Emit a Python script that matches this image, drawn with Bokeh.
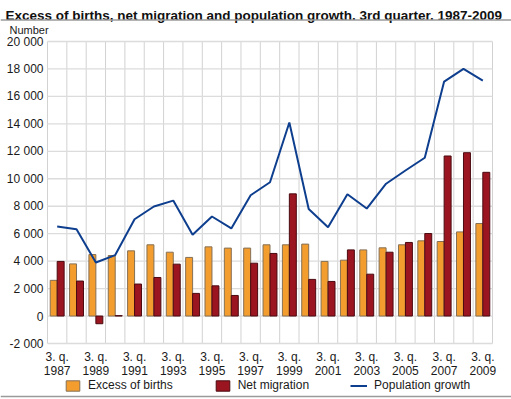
from bokeh.plotting import figure
from bokeh.models import Legend, LegendItem, Range1d, Label, Span
from bokeh.core.properties import value
from bokeh.embed import file_html
from bokeh.resources import INLINE

# ---- data -------------------------------------------------------------
years = list(range(1987, 2010))
excess_of_births = [2600, 3800, 4480, 4410, 4750, 5190, 4650, 4270, 5040, 4950, 4950, 5190,
                    5190, 5240, 3980, 4070, 4820, 4970, 5190, 5480, 5430, 6130, 6740]
net_migration = [3980, 2550, -560, 30, 2330, 2810, 3780, 1650, 2200, 1500, 3850, 4560,
                 8900, 2670, 2520, 4820, 3050, 4650, 5360, 6010, 11660, 11900, 10470]
population_growth = [6520, 6330, 3900, 4440, 7050, 7980, 8410, 5920, 7250, 6380, 8800, 9750,
                     14100, 7800, 6470, 8870, 7830, 9640, 10600, 11530, 17080, 18000, 17150]
y_ticks = list(range(-2000, 20001, 2000))
y_tick_labels = [f"{v:,}".replace(",", " ") for v in y_ticks]
x_tick_years = [y for y in years if (y - years[0]) % 2 == 0]
x_tick_line1 = ["3. q."] * len(x_tick_years)
title_text = "Excess of births, net migration and population growth. 3rd quarter. 1987-2009"
unit_text = "Number"
series_names = ["Excess of births", "Net migration", "Population growth"]

# ---- layout / style -----------------------------------------------------
W, H = 511, 399
PLOT_LEFT, PLOT_RIGHT, PLOT_TOP, PLOT_BOTTOM = 47, 492, 41, 343
FONT = "Liberation Sans"
ORANGE = "#F39D2E"
RED = "#9B1520"
BLUE = "#0E3E8E"
TXT = "#1a1a1a"

n = len(years)
idx = list(range(n))
x_lo, x_hi = -0.5, n - 0.5
y_lo, y_hi = y_ticks[0], y_ticks[-1]
px_x = (PLOT_RIGHT - PLOT_LEFT) / (x_hi - x_lo)
px_y = (PLOT_BOTTOM - PLOT_TOP) / (y_hi - y_lo)
x_range = Range1d(x_lo - PLOT_LEFT / px_x, x_hi + (W - PLOT_RIGHT) / px_x)
y_range = Range1d(y_lo - (H - PLOT_BOTTOM) / px_y, y_hi + PLOT_TOP / px_y)

p = figure(width=W, height=H, output_backend="svg", toolbar_location=None,
           x_range=x_range, y_range=y_range, x_axis_type=None, y_axis_type=None,
           min_border=0, min_border_left=0, min_border_right=0,
           min_border_top=0, min_border_bottom=0)
p.outline_line_color = None
p.background_fill_color = "white"
p.border_fill_color = "white"

# grid (plot area)
boundaries = [i - 0.5 for i in idx] + [n - 0.5]
p.segment(x0=boundaries, x1=boundaries, y0=[y_lo] * len(boundaries), y1=[y_hi] * len(boundaries),
          line_color="#d2d2d2", line_width=1)
p.segment(x0=[x_lo] * len(y_ticks), x1=[x_hi] * len(y_ticks), y0=y_ticks, y1=y_ticks,
          line_color="#dcdcdc", line_width=1.3)

# data
b1 = p.vbar(x=[i - 0.18 for i in idx], top=excess_of_births, bottom=0, width=0.36,
            fill_color=ORANGE, line_color="#857055", line_width=1)
b2 = p.vbar(x=[i + 0.18 for i in idx], top=net_migration, bottom=0, width=0.36,
            fill_color=RED, line_color="#4a0a10", line_width=1)
l1 = p.line(x=idx, y=population_growth, line_color=BLUE, line_width=2)

# tick labels
p.text(x=[x_lo] * len(y_ticks), y=y_ticks, text=y_tick_labels, x_offset=-4,
       text_align="right", text_baseline="middle", text_font=value(FONT),
       text_font_size=value("12px"), text_color=TXT)
x_tick_pos = [years.index(y) for y in x_tick_years]
p.text(x=x_tick_pos, y=[y_lo] * len(x_tick_pos), text=x_tick_line1, y_offset=13.5,
       text_align="center", text_baseline="alphabetic", text_font=value(FONT),
       text_font_size=value("12px"), text_color=TXT)
p.text(x=x_tick_pos, y=[y_lo] * len(x_tick_pos), text=[str(y) for y in x_tick_years],
       y_offset=26.5, text_align="center", text_baseline="alphabetic", text_font=value(FONT),
       text_font_size=value("12px"), text_color=TXT)

# title, unit, rules
p.add_layout(Label(x=5, y=H - 14.5, x_units="screen", y_units="screen", text=title_text,
                   text_font=FONT, text_font_size="13.5px", text_font_style="bold",
                   text_color="#111111", text_baseline="alphabetic"))
p.add_layout(Label(x=9, y=H - 29.5, x_units="screen", y_units="screen", text=unit_text,
                   text_font=FONT, text_font_size="11px", text_color=TXT,
                   text_baseline="alphabetic"))
p.add_layout(Span(location=H - 19.5, location_units="screen", dimension="width",
                  line_color="#9a9a9a", line_width=1.5))
p.add_layout(Span(location=H - 396, location_units="screen", dimension="width",
                  line_color="#9a9a9a", line_width=1.5))

legend = Legend(items=[LegendItem(label=series_names[0], renderers=[b1]),
                       LegendItem(label=series_names[1], renderers=[b2]),
                       LegendItem(label=series_names[2], renderers=[l1])],
                orientation="horizontal", location=(64, H - 392),
                glyph_width=17, glyph_height=13, label_height=13, label_standoff=7,
                spacing=41, padding=0, margin=0, border_line_color=None,
                background_fill_alpha=0, label_text_font=FONT,
                label_text_font_size="12px", label_text_color=TXT)
p.add_layout(legend)

open("out.html", "w").write(file_html(p, INLINE))
